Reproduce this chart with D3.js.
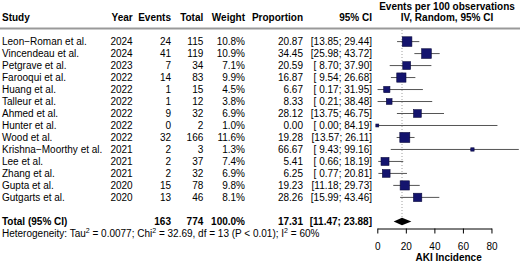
<!DOCTYPE html>
<html>
<head>
<meta charset="utf-8">
<script src="https://cdn.jsdelivr.net/npm/d3@7"></script>
<style>
  body { margin: 0; background: #fff; }
  svg { font-family: "Liberation Sans", Arial, sans-serif; font-size: 10px; }
  .bold { font-weight: bold; }
</style>
</head>
<body>
<svg id="chart" width="520" height="266"></svg>
<script>
// study data
let studies = ["Leon\u2212Roman et al.", "Vincendeau et al.", "Petgrave et al.", "Farooqui et al.",
  "Huang et al.", "Talleur et al.", "Ahmed et al.", "Hunter et al.", "Wood et al.",
  "Krishna\u2212Moorthy et al.", "Lee et al.", "Zhang et al.", "Gupta et al.", "Gutgarts et al."];
let years = [2024, 2024, 2023, 2022, 2022, 2022, 2022, 2022, 2022, 2021, 2021, 2021, 2020, 2020];
let events = [24, 41, 7, 14, 1, 1, 9, 0, 32, 2, 2, 2, 15, 13];
let totals = [115, 119, 34, 83, 15, 12, 32, 2, 166, 3, 37, 32, 78, 46];
let weights = [10.8, 10.9, 7.1, 9.9, 4.5, 3.8, 6.9, 1.0, 11.6, 1.3, 7.4, 6.9, 9.8, 8.1];
let props = [20.87, 34.45, 20.59, 16.87, 6.67, 8.33, 28.12, 0.00, 19.28, 66.67, 5.41, 6.25, 19.23, 28.26];
let lower = [13.85, 25.98, 8.70, 9.54, 0.17, 0.21, 13.75, 0.00, 13.57, 9.43, 0.66, 0.77, 11.18, 15.99];
let upper = [29.44, 43.72, 37.90, 26.68, 31.95, 38.48, 46.75, 84.19, 26.11, 99.16, 18.19, 20.81, 29.73, 43.46];

// pooled estimate
let pooled = {events: 163, total: 774, weight: 100.0, est: 17.31, lo: 11.47, hi: 23.88};
let axisTicks = [0, 20, 40, 60, 80];

let data = studies.map((s, i) => ({
  study: s, year: years[i], events: events[i], total: totals[i], weight: weights[i],
  prop: props[i], lo: lower[i], hi: upper[i]
}));

let svg = d3.select("#chart");

// scales
let x = d3.scaleLinear().domain([0, 100]).range([377.3, 520]);
let y = d3.scalePoint().domain(d3.range(data.length)).range([41.6, 197.4]);
let size = d3.scaleSqrt().domain([0, 11.6]).range([0, 10]);

let fmt2 = d3.format(".2f");
let fmtCI = v => (v < 10 ? " " : "") + fmt2(v);
let ciText = (lo, hi) => "[" + fmtCI(lo) + "; " + fmtCI(hi) + "]";

// columns: header, x, anchor, value
let cols = [
  {h: "Study", x: 2, a: "start", v: d => d.study},
  {h: "Year", x: 132.7, a: "end", v: d => d.year},
  {h: "Events", x: 171, a: "end", v: d => d.events},
  {h: "Total", x: 203.3, a: "end", v: d => d.total},
  {h: "Weight", x: 245, a: "end", v: d => d.weight.toFixed(1) + "%"},
  {h: "Proportion", x: 303, a: "end", v: d => fmt2(d.prop)},
  {h: "95% CI", x: 372, a: "end", v: d => ciText(d.lo, d.hi)}
];

// header
cols.forEach(c => {
  svg.append("text").attr("class", "bold")
    .attr("x", c.x).attr("y", 20.5).attr("text-anchor", c.a).text(c.h);
});
svg.append("text").attr("class", "bold").attr("x", 447).attr("y", 9.5)
  .attr("text-anchor", "middle").text("Events per 100 observations");
svg.append("text").attr("class", "bold").attr("x", 447).attr("y", 20.5)
  .attr("text-anchor", "middle").text("IV, Random, 95% CI");

svg.append("line")
  .attr("x1", 0).attr("x2", 520).attr("y1", 28.5).attr("y2", 28.5)
  .attr("stroke", "#999").attr("stroke-width", 2);

// table rows
cols.forEach(c => {
  svg.selectAll(null).data(data).enter().append("text")
    .attr("x", c.x).attr("y", (d, i) => y(i) + 3.6)
    .attr("text-anchor", c.a)
    .style("white-space", "pre")
    .text(c.v);
});

// total row
let yTot = 221.5;
let totRow = [
  {x: 2, a: "start", t: "Total (95% CI)"},
  {x: 171, a: "end", t: pooled.events},
  {x: 203.3, a: "end", t: pooled.total},
  {x: 245, a: "end", t: pooled.weight.toFixed(1) + "%"},
  {x: 303, a: "end", t: fmt2(pooled.est)},
  {x: 372, a: "end", t: ciText(pooled.lo, pooled.hi)}
];
totRow.forEach(r => {
  svg.append("text").attr("class", "bold").attr("x", r.x).attr("y", yTot + 3.6)
    .attr("text-anchor", r.a).text(r.t);
});

// heterogeneity line with superscripts
let het = svg.append("text").attr("x", 2).attr("y", 236.6);
let hetParts = [
  ["Heterogeneity: Tau", false], ["2", true], [" = 0.0077; Chi", false], ["2", true],
  [" = 32.69, df = 13 (P < 0.01); I", false], ["2", true], [" = 60%", false]
];
hetParts.forEach(p => {
  let t = het.append("tspan").text(p[0]);
  if (p[1]) t.attr("font-size", "7px").attr("dy", -4);
  else t.attr("dy", het.selectAll("tspan").size() > 1 ? 4 : 0);
});

// reference line at pooled estimate
svg.append("line")
  .attr("x1", x(pooled.est)).attr("x2", x(pooled.est))
  .attr("y1", 30).attr("y2", yTot - 3)
  .attr("stroke", "#888").attr("stroke-width", 0.8)
  .attr("stroke-dasharray", "1,2");

// CI lines
svg.selectAll(".ci").data(data).enter().append("line")
  .attr("class", "ci")
  .attr("x1", d => x(d.lo)).attr("x2", d => x(Math.min(d.hi, 100)))
  .attr("y1", (d, i) => y(i)).attr("y2", (d, i) => y(i))
  .attr("stroke", "#555").attr("stroke-width", 1);

// weighted squares
svg.selectAll(".sq").data(data).enter().append("rect")
  .attr("class", "sq")
  .attr("x", d => x(d.prop) - size(d.weight) / 2)
  .attr("y", (d, i) => y(i) - size(d.weight) / 2)
  .attr("width", d => size(d.weight))
  .attr("height", d => size(d.weight))
  .attr("fill", "#14146e")
  .attr("stroke", "#0a0a3c").attr("stroke-width", 0.6);

// pooled diamond
let dh = 3.8;
svg.append("polygon")
  .attr("points", [
    [x(pooled.lo), yTot], [x(pooled.est), yTot - dh],
    [x(pooled.hi), yTot], [x(pooled.est), yTot + dh]
  ].map(p => p.join(",")).join(" "))
  .attr("fill", "black");

// axis
let xAxisScale = x.copy().domain([0, 80]).range([x(0), x(80)]);
let axis = svg.append("g")
  .attr("transform", "translate(0,228.5)")
  .call(d3.axisBottom(xAxisScale).tickValues(axisTicks).tickSize(5).tickSizeOuter(0).tickPadding(9));
axis.selectAll("text").attr("font-size", "10px").attr("font-family", "Liberation Sans, Arial, sans-serif").attr("fill", "#000");
axis.selectAll("line, path").attr("stroke", "#000");

svg.append("text").attr("class", "bold")
  .attr("x", x(50)).attr("y", 261).attr("text-anchor", "middle")
  .text("AKI Incidence");
</script>
</body>
</html>
